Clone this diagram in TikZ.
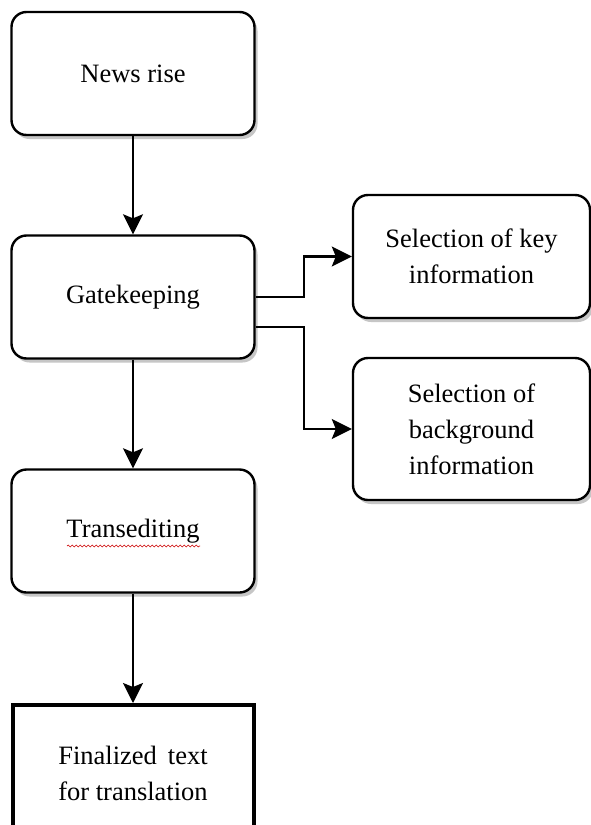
\documentclass[tikz,border=0pt]{standalone}
\usepackage{fontspec}
\setmainfont{Liberation Serif}
\usetikzlibrary{arrows.meta,shadows,decorations.pathmorphing}

\tikzset{
  stagebox/.style={draw,line width=2.4pt,rounded corners=15pt,fill=white,
    minimum width=243pt,minimum height=123pt,align=center,
    drop shadow={shadow xshift=3pt,shadow yshift=-4pt,fill=gray!45,opacity=1}},
  flowarrow/.style={line width=2.1pt,line join=miter,-{Stealth[length=20pt,width=20pt,inset=4pt]}}
}

\begin{document}
\begin{tikzpicture}[x=1pt,y=-1pt,font=\fontsize{26.5}{36}\selectfont]
\fill[white] (0,0) rectangle (591,825);
\clip (0,0) rectangle (591,825);
\node[stagebox] (news) at (133,73.5) {News rise};
\node[stagebox] (gate) at (133,297) {Gatekeeping};
\node[stagebox] (transed) at (133,531) {Transediting};
\node[stagebox,minimum width=237pt] (keyinfo) at (471.5,256.5) {Selection of key\\information};
\node[stagebox,minimum width=237pt,minimum height=142pt] (bginfo) at (471.5,429) {Selection of\\background\\information};
\node[draw,line width=4pt,fill=white,minimum width=241pt,minimum height=136pt,align=center] (final) at (133,773) {Finalized\, text\\for translation};
\draw[red!80!black,line width=0.6pt,decorate,decoration={snake,amplitude=0.9pt,segment length=4pt}] (67,546) -- (200,546);
\draw[flowarrow] (news) -- (gate);
\draw[flowarrow] (gate) -- (transed);
\draw[flowarrow] (transed) -- (final);
\draw[flowarrow] (gate.east) -- ++(48,0) |- (keyinfo.west);
\draw[flowarrow] ([yshift=-30pt]gate.east) -- ++(48,0) |- (bginfo.west);
\end{tikzpicture}
\end{document}
